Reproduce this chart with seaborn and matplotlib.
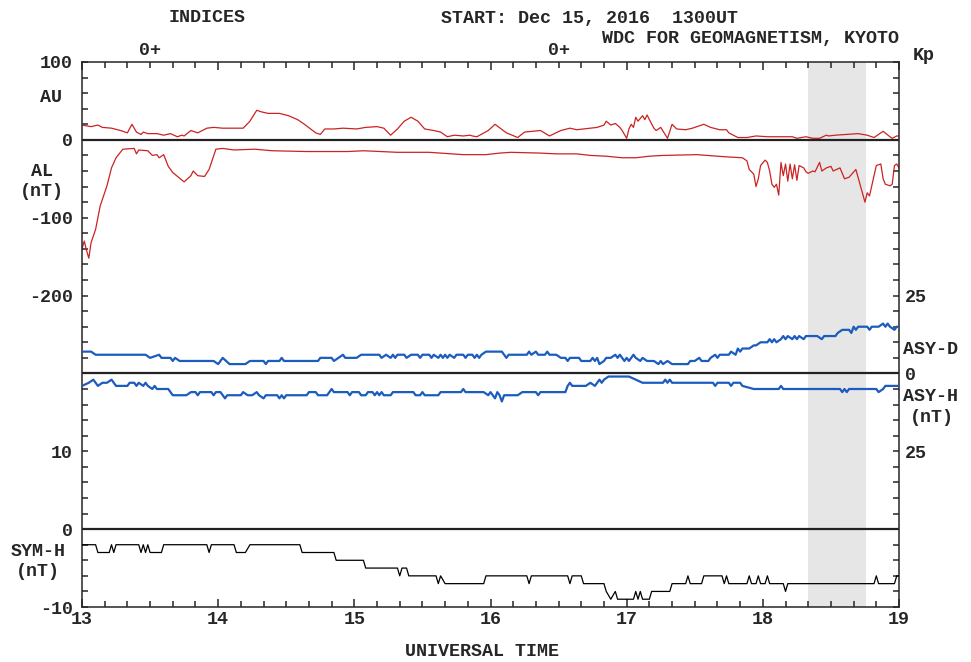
import numpy as np
import pandas as pd
import matplotlib
matplotlib.use("Agg")
import matplotlib.pyplot as plt
from matplotlib.ticker import FixedLocator, FixedFormatter, MultipleLocator
import seaborn as sns

# Geomagnetic indices, 2016-12-15 13:00-19:00 UT.
# Times are minutes after 13:00 UT, values in nT.
au_t = [0, 4, 7, 9, 13, 17, 20, 22, 24, 26, 27, 29, 33, 36, 39, 42, 44, 45, 48, 51,
        55, 58, 62, 67, 71, 74, 77, 79, 82, 87, 91, 95, 98, 103, 105, 107, 111, 115, 121, 125,
        130, 133, 136, 139, 142, 145, 148, 151, 155, 158, 161, 164, 168, 171, 172, 174, 179, 182, 187, 192,
        195, 202, 206, 211, 215, 218, 224, 227, 230, 231, 233, 235, 237, 238, 240, 241, 242, 243, 244, 245,
        247, 248, 249, 250, 252, 253, 255, 258, 260, 262, 266, 269, 274, 277, 281, 284, 285, 289, 293, 297,
        302, 307, 313, 315, 319, 322, 325, 328, 329, 332, 337, 342, 346, 349, 353, 356, 357, 359, 360]
au_v = [19, 17, 19, 16, 15, 12, 9, 20, 10, 7, 10, 8, 8, 6, 8, 4, 6, 5, 12, 9,
        15, 16, 15, 15, 15, 24, 38, 36, 34, 34, 31, 26, 20, 9, 7, 14, 14, 15, 14, 16,
        17, 15, 6, 14, 24, 29, 24, 14, 12, 10, 4, 6, 5, 6, 5, 4, 12, 20, 9, 3,
        10, 12, 5, 12, 15, 13, 15, 16, 19, 24, 19, 21, 16, 12, 2, 14, 20, 16, 29, 24,
        31, 26, 32, 26, 15, 12, 16, 2, 20, 14, 13, 15, 20, 16, 13, 13, 9, 3, 3, 5,
        4, 4, 4, 2, 4, 2, 2, 6, 5, 6, 7, 8, 6, 3, 11, 4, 2, 5, 5]

al_t = [0, 1, 2, 3, 4, 6, 8, 11, 13, 15, 18, 23, 24, 25, 29, 31, 33, 34, 36, 38,
        40, 45, 48, 49, 51, 54, 56, 59, 62, 67, 76, 84, 99, 117, 124, 139, 153, 168, 178, 184,
        189, 202, 209, 218, 224, 231, 238, 244, 250, 256, 271, 280, 285, 291, 293, 294, 296, 297, 298, 299,
        301, 302, 303, 304, 305, 306, 307, 308, 309, 310, 311, 312, 313, 314, 315, 316, 318, 319, 320, 322,
        323, 325, 326, 328, 330, 331, 334, 336, 338, 341, 343, 345, 346, 347, 350, 352, 353, 354, 356, 357,
        358, 359, 360]
al_v = [-140, -130, -142, -152, -132, -115, -85, -59, -36, -23, -12, -11, -18, -13, -14, -20, -19, -23, -19, -34,
        -42, -54, -46, -40, -46, -47, -38, -12, -11, -13, -12, -14, -15, -15, -14, -16, -16, -19, -19, -17,
        -16, -17, -18, -18, -20, -21, -23, -23, -21, -20, -19, -21, -22, -23, -27, -38, -44, -60, -50, -33,
        -26, -29, -40, -57, -61, -57, -71, -29, -46, -31, -53, -31, -50, -32, -52, -33, -36, -41, -43, -40,
        -41, -29, -40, -36, -34, -40, -36, -50, -48, -38, -59, -80, -68, -72, -33, -31, -50, -57, -59, -57,
        -33, -31, -36]

asyd_t = [0, 4, 6, 28, 30, 34, 35, 39, 40, 41, 43, 58, 60, 62, 65, 72, 74, 80, 81, 82,
          87, 88, 89, 104, 105, 110, 111, 113, 115, 116, 121, 123, 131, 132, 134, 136, 137, 138, 139, 142,
          143, 145, 148, 149, 150, 153, 154, 155, 157, 158, 159, 160, 161, 162, 164, 165, 168, 169, 170, 172,
          173, 174, 175, 176, 178, 185, 186, 187, 188, 196, 197, 198, 200, 201, 204, 205, 206, 209, 211, 213,
          214, 215, 219, 220, 224, 225, 226, 227, 228, 230, 231, 233, 235, 236, 237, 238, 239, 240, 241, 243,
          244, 246, 247, 249, 252, 254, 255, 256, 258, 260, 267, 268, 270, 272, 273, 276, 277, 279, 280, 281,
          285, 286, 288, 289, 290, 291, 294, 296, 297, 299, 302, 303, 304, 305, 306, 308, 309, 310, 311, 313,
          314, 315, 316, 318, 319, 324, 326, 327, 332, 333, 335, 338, 339, 340, 341, 342, 346, 347, 348, 351,
          353, 354, 355, 356, 358, 359, 360]
asyd_v = [7, 7, 6, 6, 5, 6, 5, 5, 4, 5, 4, 4, 3, 5, 3, 3, 4, 4, 3, 4,
          4, 5, 4, 4, 5, 5, 4, 5, 6, 5, 5, 6, 6, 5, 6, 5, 6, 5, 6, 6,
          5, 6, 6, 5, 6, 6, 5, 6, 5, 6, 5, 6, 5, 6, 5, 6, 6, 5, 6, 6,
          5, 6, 5, 6, 7, 7, 6, 5, 6, 6, 7, 6, 7, 6, 6, 7, 6, 6, 5, 5,
          4, 5, 5, 4, 4, 5, 4, 5, 3, 4, 5, 5, 6, 5, 6, 5, 4, 5, 4, 6,
          5, 4, 5, 4, 4, 3, 4, 3, 4, 3, 3, 4, 4, 5, 4, 4, 5, 6, 5, 6,
          6, 7, 6, 8, 7, 8, 8, 9, 9, 10, 10, 11, 10, 11, 10, 11, 12, 11, 12, 11,
          12, 11, 12, 11, 12, 12, 11, 12, 12, 13, 14, 14, 13, 15, 14, 15, 15, 14, 15, 15,
          16, 15, 16, 15, 14, 15, 15]

asyh_t = [0, 3, 5, 7, 9, 11, 13, 15, 20, 21, 23, 24, 25, 27, 28, 29, 31, 32, 33, 38,
          40, 46, 48, 50, 51, 52, 57, 58, 59, 61, 63, 64, 70, 71, 73, 75, 77, 78, 80, 81,
          86, 87, 88, 89, 90, 99, 100, 103, 104, 108, 109, 110, 111, 117, 118, 119, 122, 123, 125, 126,
          128, 129, 130, 131, 132, 133, 136, 137, 146, 147, 149, 150, 151, 157, 158, 167, 168, 169, 177, 179,
          180, 182, 183, 184, 185, 186, 192, 194, 200, 201, 202, 213, 214, 215, 216, 222, 224, 226, 227, 228,
          229, 230, 232, 241, 244, 247, 256, 257, 258, 259, 260, 278, 279, 280, 285, 286, 287, 290, 291, 296,
          307, 308, 309, 319, 334, 335, 336, 337, 338, 350, 351, 353, 354, 360]
asyh_v = [4, 3, 2, 4, 3, 3, 2, 4, 4, 3, 3, 4, 3, 4, 3, 4, 5, 4, 5, 5,
          7, 7, 6, 6, 7, 6, 6, 7, 6, 6, 8, 7, 7, 6, 7, 7, 6, 7, 8, 7,
          7, 8, 7, 8, 7, 7, 6, 6, 7, 7, 6, 5, 6, 6, 7, 6, 6, 7, 7, 6,
          6, 7, 6, 7, 6, 7, 7, 6, 6, 7, 7, 6, 7, 7, 6, 6, 5, 6, 6, 7,
          6, 8, 6, 7, 9, 7, 7, 6, 6, 7, 6, 6, 4, 3, 4, 4, 3, 4, 3, 2,
          3, 2, 1, 1, 2, 3, 3, 2, 3, 2, 3, 3, 4, 3, 3, 4, 3, 3, 4, 5,
          5, 4, 5, 5, 5, 6, 5, 6, 5, 5, 6, 5, 4, 4]

symh_t = [0, 6, 7, 12, 13, 14, 15, 25, 26, 27, 28, 29, 30, 35, 36, 55, 56, 57, 67, 68,
          72, 74, 96, 97, 111, 112, 124, 125, 139, 140, 141, 143, 144, 156, 157, 158, 160, 177, 178, 196,
          197, 198, 214, 215, 216, 220, 221, 230, 231, 233, 235, 236, 243, 244, 245, 246, 247, 250, 251, 259,
          260, 266, 267, 268, 273, 274, 282, 283, 284, 285, 293, 294, 295, 297, 298, 299, 301, 302, 303, 309,
          310, 311, 349, 350, 351, 358, 359, 360]
symh_v = [-2, -2, -3, -3, -2, -3, -2, -2, -3, -2, -3, -2, -3, -3, -2, -2, -3, -2, -2, -3,
          -3, -2, -2, -3, -3, -4, -4, -5, -5, -6, -5, -5, -6, -6, -7, -6, -7, -7, -6, -6,
          -7, -6, -6, -7, -6, -6, -7, -7, -8, -9, -8, -9, -9, -8, -9, -8, -9, -9, -8, -8,
          -7, -7, -6, -7, -7, -6, -6, -7, -6, -7, -7, -6, -7, -7, -6, -7, -7, -6, -7, -7,
          -8, -7, -7, -6, -7, -7, -6, -6]

kp_hours = [13.5, 16.5]
kp_labels = ["0+", "0+"]
hour_ticks = [13, 14, 15, 16, 17, 18, 19]
shade = [18.33, 18.755]

RED = "#cc2222"
BLUE = "#1c5cbf"
FS = 13.2

sns.set_style("ticks")
plt.rcParams["font.family"] = ["Liberation Mono", "DejaVu Sans Mono"]
plt.rcParams["font.weight"] = "bold"
plt.rcParams["axes.linewidth"] = 1.1


def frame(t, v):
    return pd.DataFrame({"UT": 13 + np.asarray(t, dtype=float) / 60.0,
                         "nT": np.asarray(v, dtype=float)})


W, H = 971, 662
fig = plt.figure(figsize=(W / 100, H / 100), dpi=100)
ax = fig.add_axes([82 / W, 1 - 607 / H, (899 - 82) / W, (607 - 62) / H])

# shaded interval
ax.axvspan(shade[0], shade[1], color="#e6e6e6", lw=0, zorder=0)

# AU / AL on the main scale (top 100, bottom -600)
sns.lineplot(data=frame(au_t, au_v), x="UT", y="nT", ax=ax, color=RED, lw=0.9,
             estimator=None, sort=False)
sns.lineplot(data=frame(al_t, al_v), x="UT", y="nT", ax=ax, color=RED, lw=0.9,
             estimator=None, sort=False)
ax.axhline(0, color="#222222", lw=1.6, zorder=3)
ax.set_ylim(-600, 100)

# ASY-D (upward) and ASY-H (downward) share a baseline
ax_d = ax.twinx()
sns.lineplot(data=frame(asyd_t, asyd_v), x="UT", y="nT", ax=ax_d, color=BLUE, lw=1.6,
             estimator=None, sort=False)
ax_d.axhline(0, color="#222222", lw=1.6, zorder=3)
ax_d.set_ylim(-75, 100)

ax_h = ax.twinx()
sns.lineplot(data=frame(asyh_t, asyh_v), x="UT", y="nT", ax=ax_h, color=BLUE, lw=1.6,
             estimator=None, sort=False)
ax_h.set_ylim(75, -100)
ax_h.axis("off")

# SYM-H
ax_s = ax.twinx()
sns.lineplot(data=frame(symh_t, symh_v), x="UT", y="nT", ax=ax_s, color="black", lw=0.9,
             estimator=None, sort=False)
ax_s.axhline(0, color="#222222", lw=1.6, zorder=3)
ax_s.set_ylim(-10, 60)
ax_s.axis("off")

# right-hand ASY scale labels
for side in ax_d.spines.values():
    side.set_visible(False)
ax_d.yaxis.set_major_locator(FixedLocator([25, 0, -25]))
ax_d.yaxis.set_major_formatter(FixedFormatter(["25", "0", "25"]))
ax_d.tick_params(axis="y", length=0, pad=4.5, labelsize=FS)
ax_d.set_ylabel("")

# x axis
ax.set_xlim(13, 19)
ax.xaxis.set_major_locator(FixedLocator(hour_ticks))
ax.xaxis.set_major_formatter(FixedFormatter([str(h) for h in hour_ticks]))
ax.xaxis.set_minor_locator(MultipleLocator(1 / 6))
ax.tick_params(axis="x", which="major", direction="in", top=True, bottom=True,
               length=6, width=1.1, pad=3, labelsize=FS)
ax.tick_params(axis="x", which="minor", direction="in", top=True, bottom=True,
               length=4, width=1.1)

# left scale: AE (upper) and SYM-H (lower)
ax.yaxis.set_major_locator(FixedLocator([100, 0, -100, -200, -400, -500, -600]))
ax.yaxis.set_major_formatter(FixedFormatter(["100", "0", "-100", "-200", "10", "0", "-10"]))
ax.yaxis.set_minor_locator(MultipleLocator(20))
ax.tick_params(axis="y", which="both", direction="in", left=True, right=True,
               length=4.5, width=1.1, pad=6.5, labelsize=FS)
ax.set_xlabel("")
ax.set_ylabel("")

# Kp values along the top
for h, lbl in zip(kp_hours, kp_labels):
    ax.text(h, 1 + 3 / 545, lbl, transform=ax.get_xaxis_transform(),
            ha="center", va="bottom", fontsize=FS)

def ftext(x, y, s, **kw):
    kw.setdefault("fontsize", FS)
    kw.setdefault("va", "center")
    fig.text(x / W, 1 - y / H, s, **kw)

ftext(207, 18, "INDICES", ha="center")
ftext(441, 18, "START: Dec 15, 2016  1300UT", ha="left")
ftext(899, 38, "WDC FOR GEOMAGNETISM, KYOTO", ha="right")
ftext(913, 56, "Kp", ha="left")
ftext(51, 98, "AU", ha="center")
ftext(42, 171, "AL", ha="center")
ftext(42, 191, "(nT)", ha="center")
ftext(38, 551, "SYM-H", ha="center")
ftext(38, 572, "(nT)", ha="center")
ftext(903, 350, "ASY-D", ha="left")
ftext(903, 397, "ASY-H", ha="left")
ftext(932, 417, "(nT)", ha="center")
ftext(482, 651, "UNIVERSAL TIME", ha="center")

fig.savefig("out.png", dpi=100)
